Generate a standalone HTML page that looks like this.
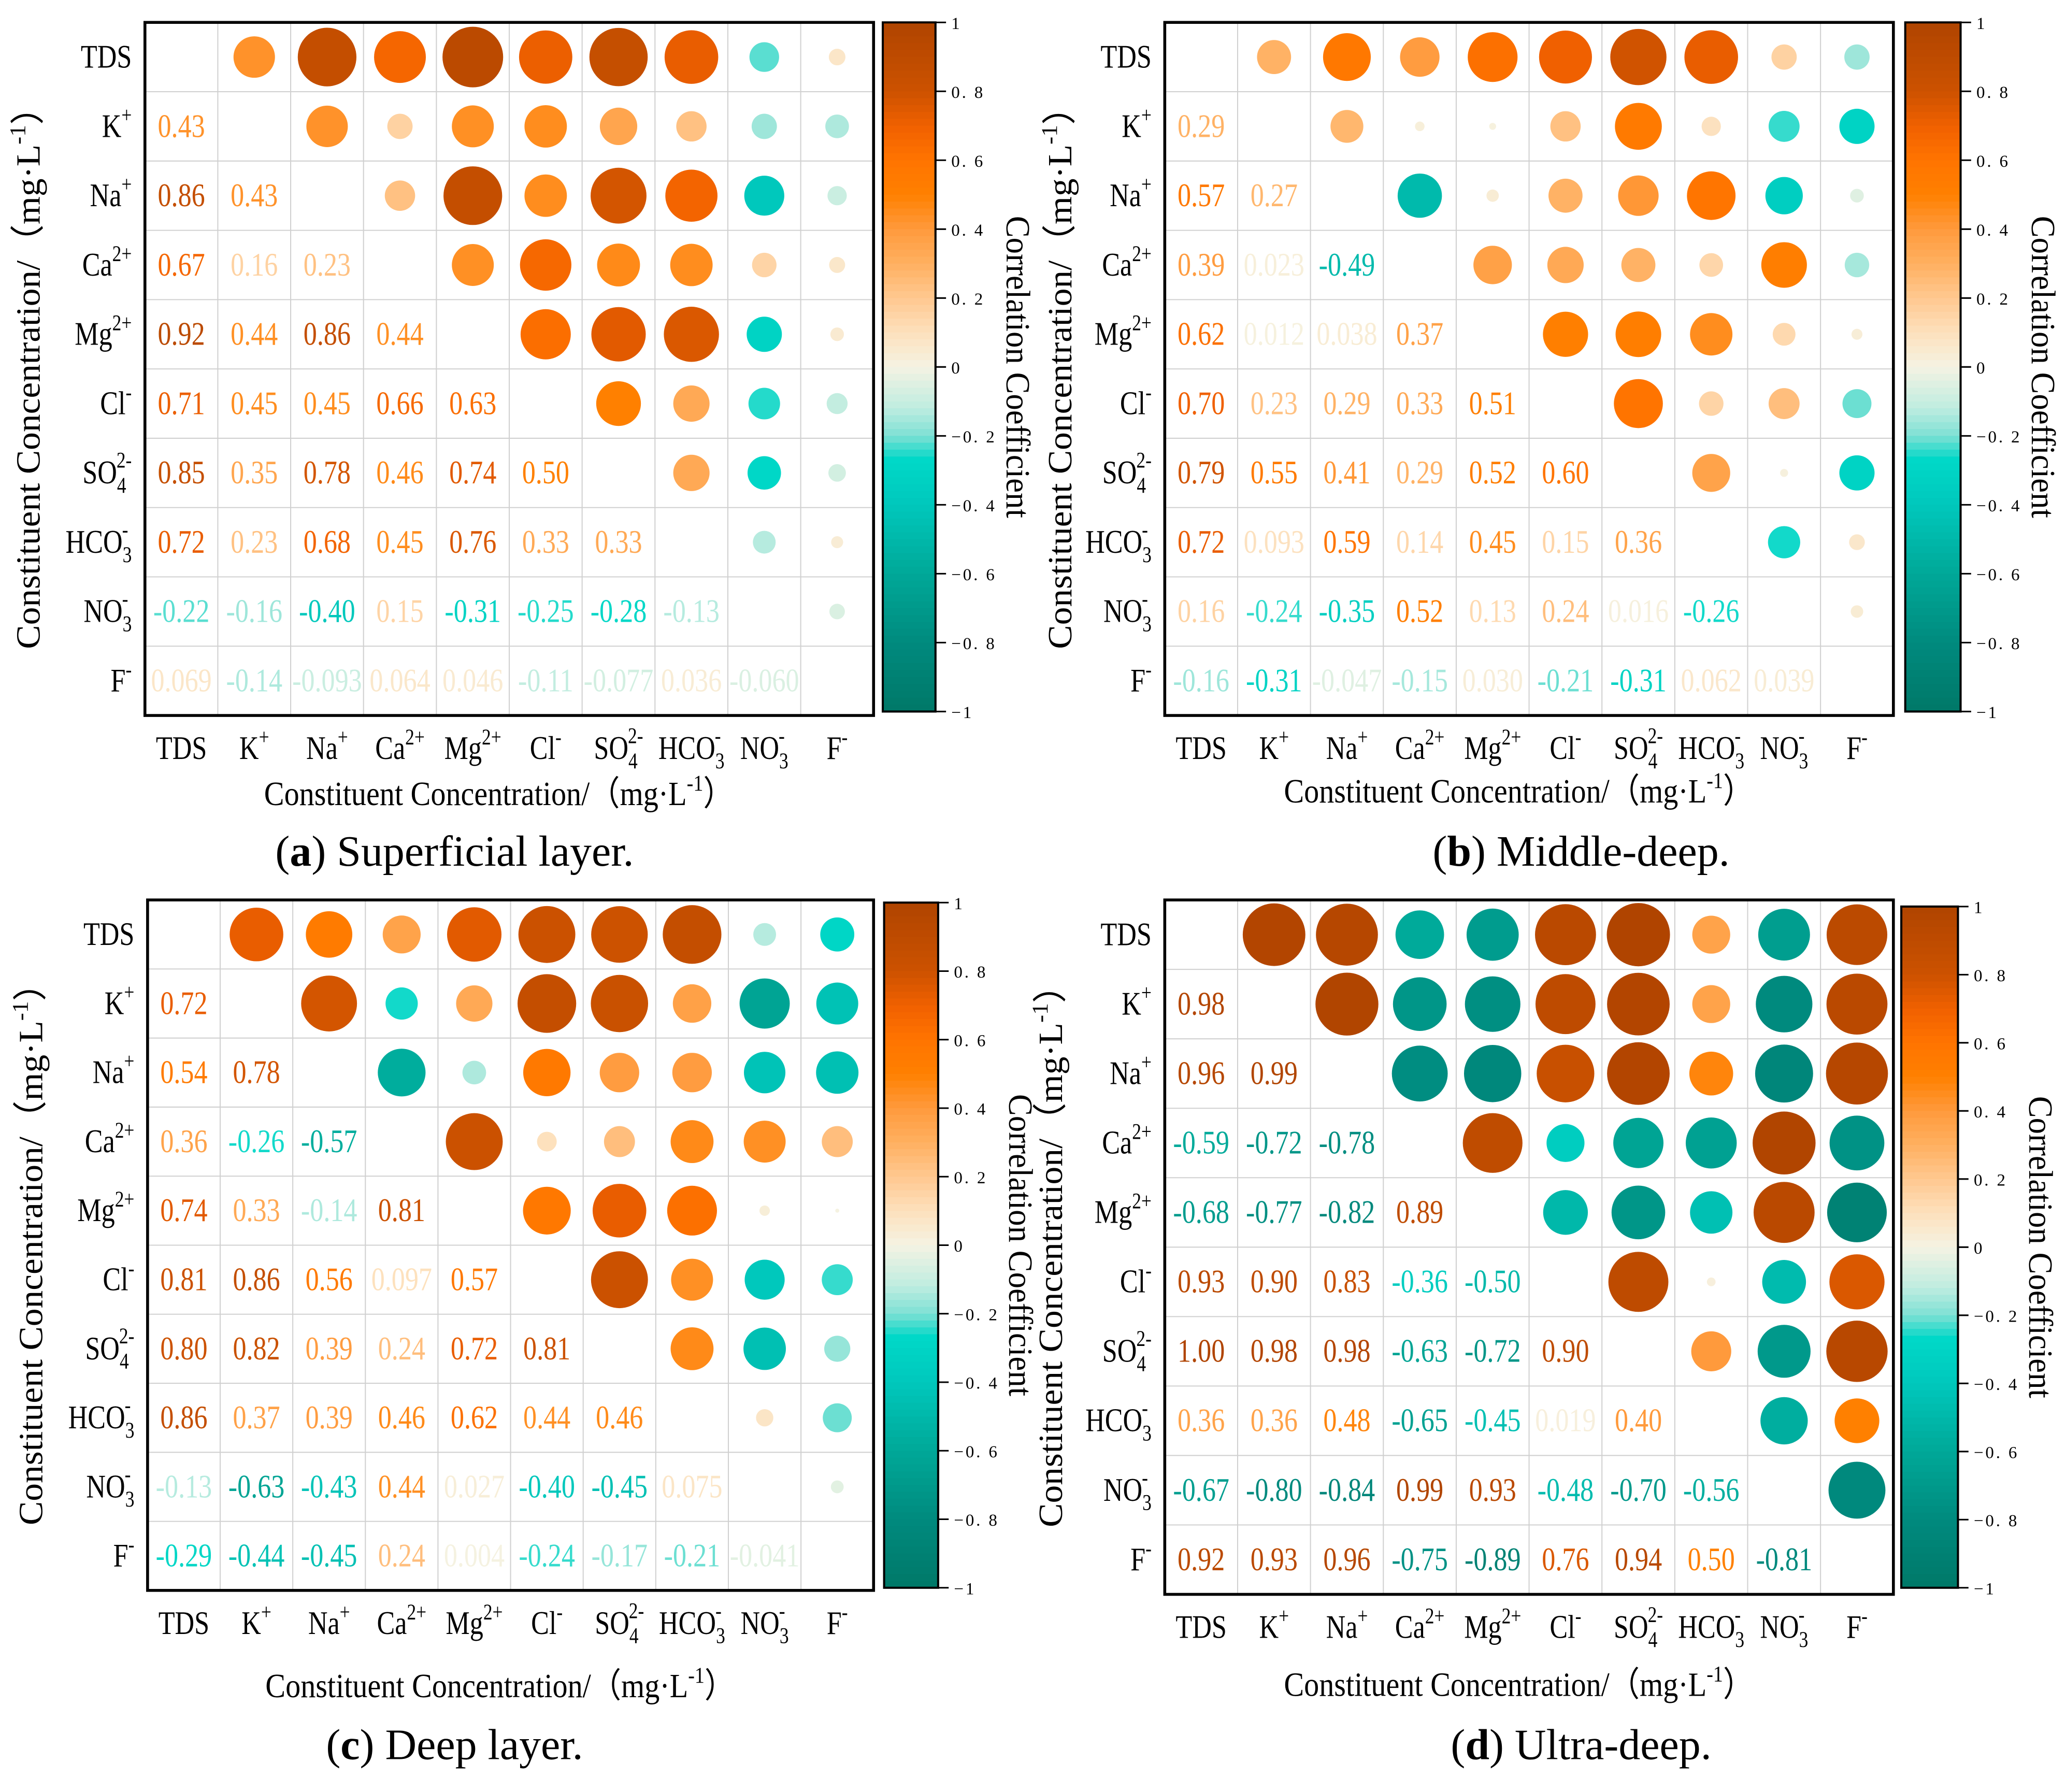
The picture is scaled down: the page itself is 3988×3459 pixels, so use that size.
<!DOCTYPE html>
<html><head><meta charset="utf-8"><style>
html,body{margin:0;padding:0;background:#fff;}
svg{display:block;font-family:"Liberation Serif",serif;}
</style></head><body>
<svg id="fig" xmlns="http://www.w3.org/2000/svg" width="3988" height="3459" viewBox="0 0 1568 1360" preserveAspectRatio="none"></svg>
<script>
const categories = ["TDS","K","Na","Ca","Mg","Cl","SO4","HCO3","NO3","F"];
const colorTicks = [1,0.8,0.6,0.4,0.2,0,-0.2,-0.4,-0.6,-0.8,-1];
const valuesA = [
 [],[0.43],[0.86,0.43],[0.67,0.16,0.23],[0.92,0.44,0.86,0.44],
 [0.71,0.45,0.45,0.66,0.63],[0.85,0.35,0.78,0.46,0.74,0.50],
 [0.72,0.23,0.68,0.45,0.76,0.33,0.33],[-0.22,-0.16,-0.40,0.15,-0.31,-0.25,-0.28,-0.13],
 [0.069,-0.14,-0.093,0.064,0.046,-0.11,-0.077,0.036,-0.060]];
const valuesB = [
 [],[0.29],[0.57,0.27],[0.39,0.023,-0.49],[0.62,0.012,0.038,0.37],
 [0.70,0.23,0.29,0.33,0.51],[0.79,0.55,0.41,0.29,0.52,0.60],
 [0.72,0.093,0.59,0.14,0.45,0.15,0.36],[0.16,-0.24,-0.35,0.52,0.13,0.24,0.016,-0.26],
 [-0.16,-0.31,-0.047,-0.15,0.030,-0.21,-0.31,0.062,0.039]];
const valuesC = [
 [],[0.72],[0.54,0.78],[0.36,-0.26,-0.57],[0.74,0.33,-0.14,0.81],
 [0.81,0.86,0.56,0.097,0.57],[0.80,0.82,0.39,0.24,0.72,0.81],
 [0.86,0.37,0.39,0.46,0.62,0.44,0.46],[-0.13,-0.63,-0.43,0.44,0.027,-0.40,-0.45,0.075],
 [-0.29,-0.44,-0.45,0.24,0.004,-0.24,-0.17,-0.21,-0.041]];
const valuesD = [
 [],[0.98],[0.96,0.99],[-0.59,-0.72,-0.78],[-0.68,-0.77,-0.82,0.89],
 [0.93,0.90,0.83,-0.36,-0.50],[1.00,0.98,0.98,-0.63,-0.72,0.90],
 [0.36,0.36,0.48,-0.65,-0.45,0.019,0.40],[-0.67,-0.80,-0.84,0.99,0.93,-0.48,-0.70,-0.56],
 [0.92,0.93,0.96,-0.75,-0.89,0.76,0.94,0.50,-0.81]];

const NS="http://www.w3.org/2000/svg";
const svg=document.getElementById('fig');
function mk(tag,attrs,parent){const e=document.createElementNS(NS,tag);for(const k in attrs)e.setAttribute(k,attrs[k]);(parent||svg).appendChild(e);return e;}
const stops=[[-1,[0,120,104]],[-0.8,[0,138,126]],[-0.6,[0,168,152]],[-0.4,[0,200,188]],[-0.27,[0,216,200]],[-0.2,[126,224,212]],[-0.12,[190,236,224]],[0,[245,243,227]],[0.1,[253,224,188]],[0.2,[255,200,144]],[0.3,[255,176,96]],[0.4,[255,154,60]],[0.5,[255,128,0]],[0.6,[255,116,0]],[0.7,[240,96,0]],[0.8,[204,82,0]],[1,[176,68,0]]];
function cmap(v){v=Math.max(-1,Math.min(1,v));for(let i=0;i<stops.length-1;i++){const a=stops[i],b=stops[i+1];if(v>=a[0]&&v<=b[0]){const t=(v-a[0])/(b[0]-a[0]);const c=a[1].map((x,k)=>Math.round(x+(b[1][k]-x)*t));return `rgb(${c[0]},${c[1]},${c[2]})`;}}return 'rgb(176,68,0)';}
function fmt(v){return Math.abs(v)>=0.1?v.toFixed(2):v.toFixed(3);}
const labelParts={TDS:["TDS","",""],K:["K","","+"],Na:["Na","","+"],Ca:["Ca","","2+"],Mg:["Mg","","2+"],Cl:["Cl","","-"],SO4:["SO","4","2-"],HCO3:["HCO","3","-"],NO3:["NO","3","-"],F:["F","","-"]};
const SX=0.82;
function chemLabel(g,key,x,y,anchor,name){
  const p=labelParts[key];
  const t=mk('text',{x:0,y:0,'text-anchor':anchor,'font-size':25,fill:'#000',transform:`translate(${x},${y}) scale(${SX},1)`},g);
  
  const b=mk('tspan',{},t);b.textContent=p[0];
  if(p[1]&&p[2]){
    const s1=mk('tspan',{'font-size':17,dy:7},t);s1.textContent=p[1];
    const s2=mk('tspan',{'font-size':17,dx:-9,dy:-19},t);s2.textContent=p[2];
    const z=mk('tspan',{'font-size':17,dy:12},t);z.textContent='';
  }else if(p[2]){
    const s2=mk('tspan',{'font-size':17,dy:-11},t);s2.textContent=p[2];
  }
}
function panel(cfg,vals){
  const g=mk('g',{});
  const [x0,y0,x1,y1]=cfg.box;const n=categories.length;const cw=(x1-x0)/n,ch=(y1-y0)/n;
  const cx=j=>x0+cw*(j+0.5), cy=i=>y0+ch*(i+0.5);
  const val=(i,j)=>i>j?vals[i][j]:vals[j][i];
  for(let k=1;k<n;k++){
    mk('line',{x1:x0+cw*k,y1:y0,x2:x0+cw*k,y2:y1,stroke:'#d0d0d0','stroke-width':0.8},g);
    mk('line',{x1:x0,y1:y0+ch*k,x2:x1,y2:y0+ch*k,stroke:'#d0d0d0','stroke-width':0.8},g);
  }
  for(let i=0;i<n;i++)for(let j=0;j<n;j++){
    if(i===j)continue;const v=val(i,j);
    if(j>i){const c=mk('circle',{cx:cx(j),cy:cy(i),r:24*Math.sqrt(Math.abs(v)),fill:cmap(v)},g);
      }
    else{const t=mk('text',{x:0,y:0,'text-anchor':'middle','font-size':25,fill:cmap(v),transform:`translate(${cx(j)},${cy(i)+8}) scale(${SX},1)`},g);
      t.textContent=fmt(v);}
  }
  const fr=mk('rect',{x:x0,y:y0,width:x1-x0,height:y1-y0,fill:'none',stroke:'#000','stroke-width':2.2},g);
  
  categories.forEach((c,i)=>{chemLabel(g,c,x0-10,cy(i)+8,'end','row-label-'+c);chemLabel(g,c,cx(i),y1+33,'middle','col-label-'+c);});
  const xt=mk('text',{x:0,y:0,'text-anchor':'middle','font-size':26,transform:`translate(${(x0+x1)/2-8},${y1+cfg.xto}) scale(0.88,1)`},g);
  
  xt.innerHTML='Constituent Concentration/（mg·L<tspan font-size="17" dy="-11">-1</tspan><tspan dy="11">）</tspan>';
  const yt=mk('text',{x:0,y:0,'text-anchor':'middle','font-size':26,transform:`translate(${cfg.ytx},${(y0+y1)/2}) rotate(-90) scale(1.05,1)`},g);
  
  yt.innerHTML='Constituent Concentration/（mg·L<tspan font-size="17" dy="-11">-1</tspan><tspan dy="11">）</tspan>';
  const [bx0,by0,bx1,by1]=cfg.cb;const cb=mk('g',{},g);
  const N=100;const yv=v=>by0+(1-v)/2*(by1-by0);
  for(let k=0;k<N;k++){const v=1-2*(k+0.5)/N;mk('rect',{x:bx0,y:by0+(by1-by0)*k/N,width:bx1-bx0,height:(by1-by0)/N+0.6,fill:cmap(v)},cb);}
  mk('rect',{x:bx0,y:by0,width:bx1-bx0,height:by1-by0,fill:'none',stroke:'#000','stroke-width':1.6},cb);
  colorTicks.forEach(v=>{mk('line',{x1:bx1,y1:yv(v),x2:bx1+8,y2:yv(v),stroke:'#000','stroke-width':1.2},cb);
    const t=mk('text',{x:bx1+12,y:yv(v)+5,'font-size':13,'letter-spacing':1.5},cb);t.textContent=String(v).replace('0.','0. ').replace('-','−');});
  const ct=mk('text',{x:0,y:0,'text-anchor':'middle','font-size':26,transform:`translate(${bx1+54},${(by0+by1)/2}) rotate(90) scale(0.95,1)`},g);
  ct.textContent='Correlation Coefficient';
  const cap=mk('text',{x:0,y:0,'text-anchor':'middle','font-size':33,transform:`translate(${cfg.capx},${cfg.capy})`},g);
  
  cap.innerHTML=`(<tspan font-weight="bold">${cfg.letter}</tspan>) ${cfg.caption}`;
}
panel({name:'panel-a',box:[110,17,663,543],cb:[670,17,710,540],ytx:30,xto:68,capx:345,capy:657,letter:'a',caption:'Superficial layer.'},valuesA);
panel({name:'panel-b',box:[884,17,1437,543],cb:[1446,17,1488,540],ytx:813,xto:66,capx:1200,capy:657,letter:'b',caption:'Middle-deep.'},valuesB);
panel({name:'panel-c',box:[112,683,663,1207],cb:[671,685,712,1205],ytx:32,xto:81,capx:345,capy:1335,letter:'c',caption:'Deep layer.'},valuesC);
panel({name:'panel-d',box:[884,683,1437,1210],cb:[1443,688,1486,1205],ytx:806,xto:77,capx:1200,capy:1335,letter:'d',caption:'Ultra-deep.'},valuesD);
</script>
</body></html>
